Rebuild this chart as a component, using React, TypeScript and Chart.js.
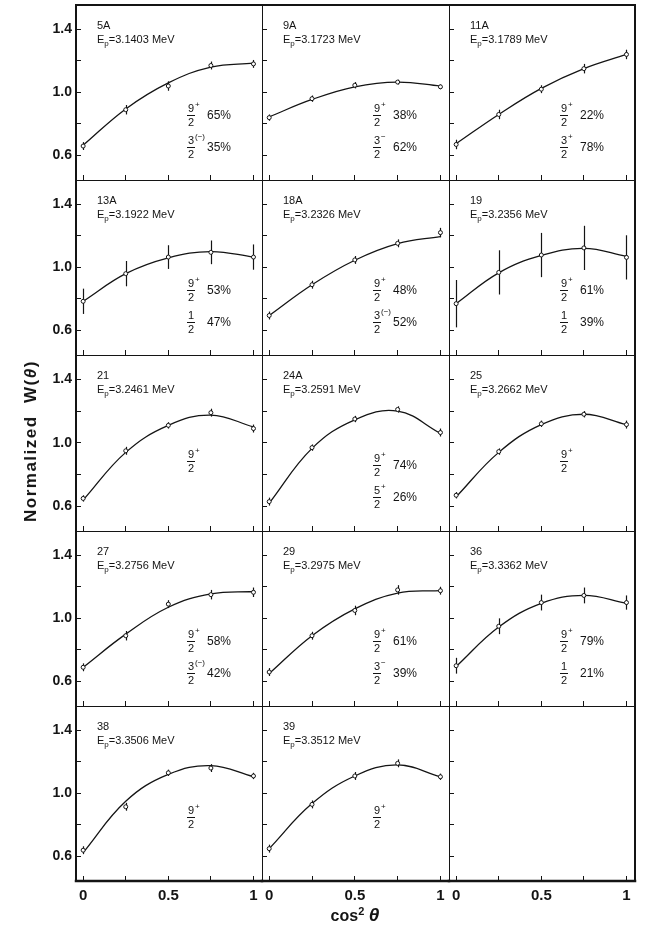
import React, { useEffect, useRef } from "react";
import { Chart, registerables } from "chart.js";

Chart.register(...registerables);

// cos^2(theta) at which every angular distribution was measured
const COS2 = [0, 0.25, 0.5, 0.75, 1];

const Y_TICKS = [0.6, 0.8, 1.0, 1.2, 1.4];
const Y_TICK_LABELS = ["0.6", "", "1.0", "", "1.4"];
const X_TICKS = [0, 0.25, 0.5, 0.75, 1];
const X_TICK_LABELS = ["0", "", "0.5", "", "1"];

const RUNS = ["5A", "9A", "11A", "13A", "18A", "19", "21", "24A", "25", "27", "29", "36", "38", "39"];
const ENERGIES = [
  "3.1403", "3.1723", "3.1789", "3.1922", "3.2326", "3.2356", "3.2461",
  "3.2591", "3.2662", "3.2756", "3.2975", "3.3362", "3.3506", "3.3512",
];

// normalized W(theta), one row per resonance
const W_MEASURED = [
  [0.66, 0.89, 1.04, 1.17, 1.18],
  [0.84, 0.96, 1.045, 1.065, 1.035],
  [0.67, 0.86, 1.02, 1.15, 1.24],
  [0.785, 0.96, 1.065, 1.095, 1.065],
  [0.695, 0.89, 1.047, 1.152, 1.22],
  [0.77, 0.968, 1.078, 1.123, 1.063],
  [0.65, 0.95, 1.11, 1.19, 1.09],
  [0.63, 0.97, 1.15, 1.21, 1.065],
  [0.67, 0.945, 1.12, 1.18, 1.115],
  [0.69, 0.89, 1.09, 1.15, 1.165],
  [0.66, 0.89, 1.05, 1.18, 1.175],
  [0.70, 0.95, 1.10, 1.145, 1.10],
  [0.64, 0.915, 1.13, 1.16, 1.11],
  [0.65, 0.93, 1.11, 1.19, 1.105],
];

const W_ERROR = [
  [0.025, 0.03, 0.03, 0.025, 0.025],
  [0.02, 0.02, 0.02, 0.015, 0.015],
  [0.03, 0.03, 0.025, 0.03, 0.03],
  [0.08, 0.08, 0.075, 0.075, 0.08],
  [0.025, 0.025, 0.025, 0.025, 0.03],
  [0.15, 0.14, 0.14, 0.14, 0.14],
  [0.02, 0.025, 0.02, 0.025, 0.025],
  [0.025, 0.02, 0.02, 0.02, 0.025],
  [0.02, 0.02, 0.02, 0.02, 0.025],
  [0.025, 0.03, 0.025, 0.03, 0.03],
  [0.025, 0.025, 0.03, 0.03, 0.025],
  [0.05, 0.05, 0.05, 0.05, 0.045],
  [0.025, 0.025, 0.02, 0.025, 0.02],
  [0.025, 0.025, 0.025, 0.025, 0.02],
];

// fitted W(theta) curves
const W_FIT = [
  [0.665, 0.895, 1.06, 1.16, 1.185],
  [0.845, 0.955, 1.035, 1.065, 1.04],
  [0.675, 0.86, 1.025, 1.15, 1.24],
  [0.785, 0.96, 1.06, 1.10, 1.065],
  [0.695, 0.89, 1.045, 1.15, 1.195],
  [0.77, 0.965, 1.075, 1.12, 1.07],
  [0.64, 0.94, 1.11, 1.175, 1.10],
  [0.62, 0.965, 1.145, 1.20, 1.06],
  [0.66, 0.94, 1.115, 1.18, 1.115],
  [0.69, 0.90, 1.07, 1.155, 1.17],
  [0.65, 0.89, 1.06, 1.16, 1.175],
  [0.695, 0.945, 1.095, 1.145, 1.095],
  [0.625, 0.95, 1.12, 1.175, 1.105],
  [0.65, 0.935, 1.11, 1.18, 1.105],
];

// spin assignments and their intensity shares
const SPIN_MAIN = ["9/2+", "9/2+", "9/2+", "9/2+", "9/2+", "9/2+", "9/2+", "9/2+", "9/2+", "9/2+", "9/2+", "9/2+", "9/2+", "9/2+"];
const SHARE_MAIN = ["65%", "38%", "22%", "53%", "48%", "61%", "", "74%", "", "58%", "61%", "79%", "", ""];
const SPIN_MIX = ["3/2(−)", "3/2−", "3/2+", "1/2", "3/2(−)", "1/2", "", "5/2+", "", "3/2(−)", "3/2−", "1/2", "", ""];
const SHARE_MIX = ["35%", "62%", "78%", "47%", "52%", "39%", "", "26%", "", "42%", "39%", "21%", "", ""];

const INK = "#141414";
const FONT = "'Liberation Sans', Arial, sans-serif";

const COL_LEFT = [76, 262, 449];
const COL_W = [186, 187, 186];
const ROW_TOP = [5, 180, 355, 531, 706];
const ROW_H = [175, 175, 176, 175, 175];

const Y_MIN = 0.445;
const Y_MAX = 1.553;
const X_MIN = -0.042;
const X_MAX = 1.05;

const AXIS_W = 60;
const AXIS_H = 34;
const PAD_T = 26;
const PAD_R = 26;

function drawFraction(ctx: CanvasRenderingContext2D, spin: string, cx: number, cy: number) {
  const [num, rest] = spin.split("/");
  const den = rest.charAt(0);
  const sign = rest.slice(1);
  ctx.fillStyle = INK;
  ctx.strokeStyle = INK;
  ctx.font = `11px ${FONT}`;
  ctx.textAlign = "center";
  ctx.textBaseline = "middle";
  ctx.fillText(num, cx, cy - 6.5);
  ctx.fillText(den, cx, cy + 7.5);
  ctx.beginPath();
  ctx.lineWidth = 1;
  ctx.moveTo(cx - 4, Math.round(cy) + 0.5);
  ctx.lineTo(cx + 4, Math.round(cy) + 0.5);
  ctx.stroke();
  if (sign) {
    ctx.font = `8px ${FONT}`;
    ctx.textAlign = "left";
    ctx.fillText(sign, cx + 4, cy - 10);
  }
}

function Panel({ index, row, col }: { index: number; row: number; col: number }) {
  const ref = useRef<HTMLCanvasElement>(null);
  const W = COL_W[col];
  const H = ROW_H[row];
  const cw = AXIS_W + W + PAD_R;
  const chh = PAD_T + H + AXIS_H;

  useEffect(() => {
    const canvas = ref.current;
    if (!canvas) return;
    const hasData = index < RUNS.length;

    const datasets: any[] = hasData
      ? [
          {
            data: COS2.map((x, i) => ({ x, y: W_MEASURED[index][i] })),
            showLine: false,
            pointRadius: 2,
            pointBorderWidth: 1,
            pointBorderColor: INK,
            pointBackgroundColor: "#ffffff",
          },
          {
            data: COS2.map((x, i) => ({ x, y: W_FIT[index][i] })),
            borderColor: INK,
            borderWidth: 1.3,
            pointRadius: 0,
            tension: 0.4,
            fill: false,
          },
        ]
      : [];

    const errorBars = {
      id: "errorBars",
      beforeDatasetsDraw(chart: any) {
        if (!hasData) return;
        const meta = chart.getDatasetMeta(0);
        const ys = chart.scales.y;
        const ctx = chart.ctx;
        ctx.save();
        ctx.strokeStyle = INK;
        ctx.lineWidth = 1.2;
        meta.data.forEach((pt: any, i: number) => {
          const v = W_MEASURED[index][i];
          const e = W_ERROR[index][i];
          const x = Math.round(pt.x) + 0.5;
          ctx.beginPath();
          ctx.moveTo(x, ys.getPixelForValue(v - e));
          ctx.lineTo(x, ys.getPixelForValue(v + e));
          ctx.stroke();
        });
        ctx.restore();
      },
    };

    const frame = {
      id: "panelFrame",
      afterDraw(chart: any) {
        const { ctx, chartArea: a } = chart;
        const line = (x1: number, y1: number, x2: number, y2: number, w: number) => {
          ctx.beginPath();
          ctx.lineWidth = w;
          ctx.moveTo(x1, y1);
          ctx.lineTo(x2, y2);
          ctx.stroke();
        };
        ctx.save();
        ctx.strokeStyle = INK;
        ctx.lineCap = "square";
        const wl = col === 0 ? 2 : 1;
        const wr = col === 2 ? 2 : 1;
        const wt = row === 0 ? 2 : 1;
        const wb = row === 4 ? 2.5 : 1;
        const off = (w: number) => (w % 2 === 1 ? 0.5 : 0);
        const L = a.left + off(wl);
        const R = a.right + off(wr);
        const T = a.top + off(wt);
        const B = a.bottom + off(wb);
        line(L, a.top, L, a.bottom, wl);
        line(R, a.top, R, a.bottom, wr);
        line(a.left, T, a.right, T, wt);
        line(a.left, B, a.right, B, wb);
        ctx.restore();
      },
    };

    const annotations = {
      id: "panelText",
      afterDraw(chart: any) {
        if (!hasData) return;
        const { ctx, chartArea: a } = chart;
        ctx.save();
        ctx.fillStyle = INK;
        ctx.textBaseline = "alphabetic";
        ctx.textAlign = "left";
        const tx = a.left + 21;
        ctx.font = `11px ${FONT}`;
        ctx.fillText(RUNS[index], tx, a.top + 24);
        ctx.fillText("E", tx, a.top + 38);
        const ew = ctx.measureText("E").width;
        ctx.font = `8px ${FONT}`;
        ctx.fillText("p", tx + ew, a.top + 41);
        const pw = ctx.measureText("p").width;
        ctx.font = `11px ${FONT}`;
        ctx.fillText(`=${ENERGIES[index]} MeV`, tx + ew + pw, a.top + 38);

        const fx = a.left + 115;
        const px = a.left + 131;
        const single = !SPIN_MIX[index];
        const y1 = a.top + (single ? (row === 4 ? 111 : 106) : 110);
        const y2 = a.top + 142;
        drawFraction(ctx, SPIN_MAIN[index], fx, y1);
        ctx.font = `12px ${FONT}`;
        ctx.textAlign = "left";
        ctx.textBaseline = "middle";
        if (SHARE_MAIN[index]) ctx.fillText(SHARE_MAIN[index], px, y1 + 1);
        if (!single) {
          drawFraction(ctx, SPIN_MIX[index], fx, y2);
          ctx.font = `12px ${FONT}`;
          ctx.textAlign = "left";
          ctx.textBaseline = "middle";
          ctx.fillText(SHARE_MIX[index], px, y2 + 1);
        }
        ctx.restore();
      },
    };

    const chart = new Chart(canvas, {
      type: "line",
      data: { datasets },
      options: {
        animation: false,
        responsive: false,
        maintainAspectRatio: false,
        devicePixelRatio: 1,
        events: [],
        layout: { padding: { top: PAD_T, right: PAD_R, left: 0, bottom: 0 } },
        plugins: { legend: { display: false }, tooltip: { enabled: false } },
        scales: {
          x: {
            type: "linear",
            min: X_MIN,
            max: X_MAX,
            afterBuildTicks: (s: any) => {
              s.ticks = X_TICKS.map((value) => ({ value }));
            },
            afterFit: (s: any) => {
              s.height = AXIS_H;
            },
            border: { display: false },
            grid: { drawOnChartArea: false, drawTicks: true, tickLength: -5, color: INK, lineWidth: 1 },
            ticks: {
              display: row === 4,
              autoSkip: false,
              maxRotation: 0,
              padding: 11,
              color: INK,
              font: { family: FONT, size: 15, weight: "bold" },
              callback: (_v: any, i: number) => X_TICK_LABELS[i],
            },
          },
          y: {
            type: "linear",
            min: Y_MIN,
            max: Y_MAX,
            afterBuildTicks: (s: any) => {
              s.ticks = Y_TICKS.map((value) => ({ value }));
            },
            afterFit: (s: any) => {
              s.width = AXIS_W;
            },
            border: { display: false },
            grid: { drawOnChartArea: false, drawTicks: true, tickLength: -5, color: INK, lineWidth: 1 },
            ticks: {
              display: col === 0,
              autoSkip: false,
              padding: 9,
              color: INK,
              font: { family: FONT, size: 14, weight: "bold" },
              callback: (_v: any, i: number) => Y_TICK_LABELS[i],
            },
          },
        },
      } as any,
      plugins: [errorBars, frame, annotations],
    });
    return () => chart.destroy();
  }, [index, row, col]);

  return (
    <canvas
      ref={ref}
      width={cw}
      height={chh}
      style={{
        position: "absolute",
        left: COL_LEFT[col] - AXIS_W,
        top: ROW_TOP[row] - PAD_T,
        width: cw,
        height: chh,
      }}
    />
  );
}

export default function App() {
  const panels = [];
  for (let r = 0; r < 5; r++) {
    for (let c = 0; c < 3; c++) {
      const idx = r * 3 + c;
      panels.push(<Panel key={idx} index={idx} row={r} col={c} />);
    }
  }
  return (
    <div
      style={{
        position: "absolute",
        left: 0,
        top: 0,
        width: 651,
        height: 934,
        background: "#ffffff",
        overflow: "hidden",
      }}
    >
      {panels}
      <div
        style={{
          position: "absolute",
          left: 31,
          top: 441,
          transform: "translate(-50%, -50%) rotate(-90deg)",
          whiteSpace: "nowrap",
          font: `bold 17px ${FONT}`,
          letterSpacing: "1.5px",
          color: INK,
        }}
      >
        Normalized&nbsp;&nbsp;W(<i>θ</i>)
      </div>
      <div
        style={{
          position: "absolute",
          left: 355,
          top: 915,
          transform: "translate(-50%, -50%)",
          whiteSpace: "nowrap",
          font: `bold 16px ${FONT}`,
          color: INK,
        }}
      >
        cos<sup style={{ fontSize: 11 }}>2</sup>&nbsp;<i style={{ fontSize: 19 }}>θ</i>
      </div>
    </div>
  );
}
